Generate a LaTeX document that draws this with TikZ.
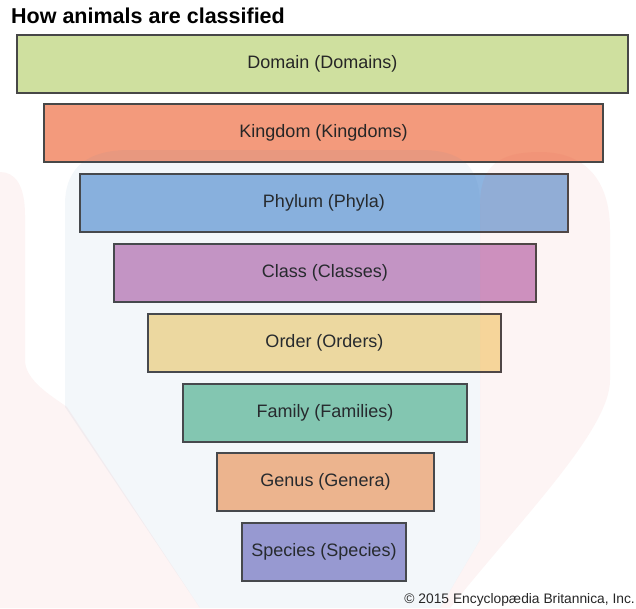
\documentclass[tikz,border=0pt]{standalone}
\usepackage{fontspec}
\setmainfont{Liberation Sans}
\definecolor{cDomain}{HTML}{CFE09F}
\definecolor{cKingdom}{HTML}{F39A7C}
\definecolor{cPhylum}{HTML}{8DB4E0}
\definecolor{cClass}{HTML}{CC96C6}
\definecolor{cOrder}{HTML}{F8DFA0}
\definecolor{cFamily}{HTML}{88CBB2}
\definecolor{cGenus}{HTML}{F8B88C}
\definecolor{cSpecies}{HTML}{9D9CD4}
\definecolor{cEdge}{HTML}{474747}
\definecolor{cText}{HTML}{262626}
\definecolor{wmRed}{HTML}{E03A3A}
\definecolor{wmBlue}{HTML}{3A78B0}
\begin{document}
\begin{tikzpicture}[x=1pt,y=-1pt,
  rank/.style={draw=cEdge, line width=1.1pt, text=cText, inner sep=0pt,
    minimum height=58pt, font=\fontsize{18}{21}\selectfont},
  wmr/.style={fill=wmRed, fill opacity=0.055},
  wmb/.style={fill=wmBlue, fill opacity=0.06}]
\useasboundingbox[fill=white] (0,0) rectangle (636,608);
% title
\node[anchor=base west, inner sep=0pt, text=black,
  font=\fontsize{21.5}{24}\selectfont\bfseries] (title) at (11,23) {How animals are classified};
% ranks
\node[rank, fill=cDomain,  minimum width=611pt] (domain)  at (322.5,64) {Domain (Domains)};
\node[rank, fill=cKingdom, minimum width=559pt] (kingdom) at (323.5,133) {Kingdom (Kingdoms)};
\node[rank, fill=cPhylum,  minimum width=488pt] (phylum)  at (324,203) {Phylum (Phyla)};
\node[rank, fill=cClass,   minimum width=422pt] (class)   at (325,273) {Class (Classes)};
\node[rank, fill=cOrder,   minimum width=353pt] (order)   at (324.5,343) {Order (Orders)};
\node[rank, fill=cFamily,  minimum width=284pt] (family)  at (325,413) {Family (Families)};
\node[rank, fill=cGenus,   minimum width=217pt] (genus)   at (325.5,482) {Genus (Genera)};
\node[rank, fill=cSpecies, minimum width=164pt] (species) at (324,552) {Species (Species)};
% faint watermark
\fill[wmb] (65,407) -- (65,205) .. controls (65,165) and (90,150) .. (130,150)
  -- (420,150) .. controls (460,150) and (480,165) .. (480,205) -- (480,540)
  -- (440,608) -- (200,608) -- cycle;
\fill[wmr] (0,172) .. controls (15,172) and (25,185) .. (25,215) -- (25,360)
  .. controls (25,380) and (50,395) .. (67,407) -- (200,608) -- (0,608) -- cycle;
\fill[wmr] (480,205) .. controls (480,165) and (500,152) .. (540,152)
  .. controls (585,152) and (610,180) .. (610,230) -- (610,380)
  .. controls (610,430) and (520,520) .. (450,608) -- (440,608) -- (480,540) -- cycle;
% copyright
\node[anchor=base east, inner sep=0pt, text=cText,
  font=\fontsize{13.8}{16}\selectfont] (copy) at (635,603) {© 2015 Encyclopædia Britannica, Inc.};
\end{tikzpicture}
\end{document}
